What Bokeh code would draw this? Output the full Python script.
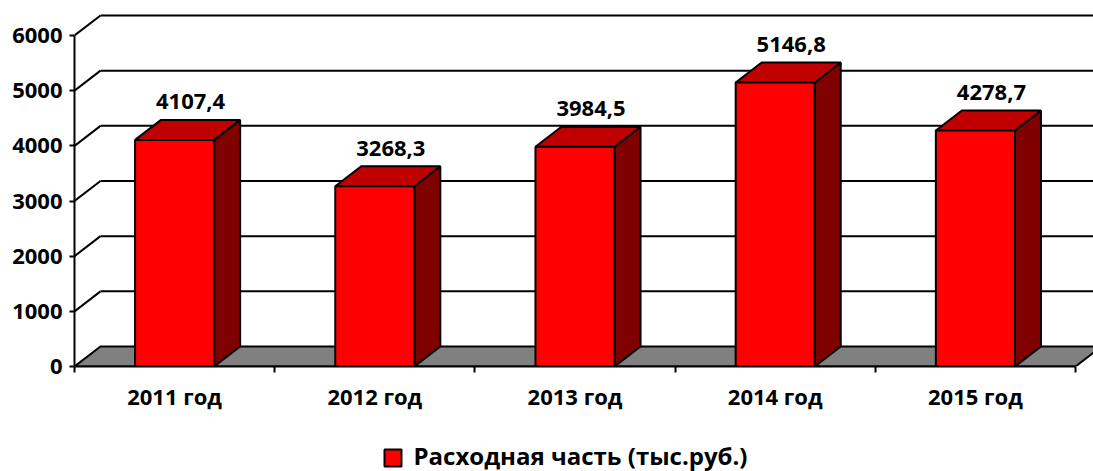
from bokeh.plotting import figure
from bokeh.layouts import column
from bokeh.models import Range1d, LinearAxis, FixedTicker, ColumnDataSource
from bokeh.core.properties import value
from bokeh.embed import file_html
from bokeh.resources import INLINE

# ---- data ----
categories = ["2011 год", "2012 год", "2013 год", "2014 год", "2015 год"]
expenses = [4107.4, 3268.3, 3984.5, 5146.8, 4278.7]
y_ticks = [0, 1000, 2000, 3000, 4000, 5000, 6000]
series_name = "Расходная часть (тыс.руб.)"

# ---- layout / style ----
FONT = "Open Sans"
FS = "22px"
W = 1093
H_CHART, H_LEG = 420, 51
LEFT_B, BOTTOM_B = 74, 54
PX_X = 200.2          # pixels per category
PX_Y = 331.0 / 6000   # pixels per value unit
frame_w = W - LEFT_B
frame_h = H_CHART - BOTTOM_B
x_end = frame_w / PX_X
y_end = frame_h / PX_Y
DX = 26 / PX_X        # 3D depth offset (x, data units)
DY = 20 / PX_Y        # 3D depth offset (y, data units)
BAR_W = 0.395
n = len(categories)

p = figure(width=W, height=H_CHART, x_range=Range1d(0, x_end), y_range=Range1d(0, y_end),
           output_backend="svg", toolbar_location=None,
           x_axis_type=None, y_axis_type=None,
           min_border_left=LEFT_B, min_border_right=0, min_border_top=0,
           min_border_bottom=BOTTOM_B)
p.outline_line_color = None
p.background_fill_color = "white"

# y axis
yaxis = LinearAxis(bounds=(0, y_ticks[-1]), ticker=FixedTicker(ticks=y_ticks, minor_ticks=[]),
                   major_tick_out=5, major_tick_in=0, minor_tick_out=0, minor_tick_in=0,
                   axis_line_width=2, axis_line_color="black",
                   major_tick_line_width=2, major_tick_line_color="black",
                   major_label_standoff=7,
                   major_label_text_font=FONT, major_label_text_font_style="bold",
                   major_label_text_font_size=FS, major_label_text_color="black")
p.add_layout(yaxis, "left")

# x axis (labels at centres, ticks at boundaries)
centers = [i + 0.5 for i in range(n)]
xaxis = LinearAxis(bounds=(0, n),
                   ticker=FixedTicker(ticks=centers, minor_ticks=list(range(n + 1))),
                   major_tick_out=0, major_tick_in=0, minor_tick_out=6, minor_tick_in=0,
                   minor_tick_line_width=2, minor_tick_line_color="black",
                   axis_line_width=2, axis_line_color="black",
                   major_label_overrides={c: cat for c, cat in zip(centers, categories)},
                   major_label_standoff=8,
                   major_label_text_font=FONT, major_label_text_font_style="bold",
                   major_label_text_font_size=FS, major_label_text_color="black")
p.add_layout(xaxis, "below")

# back wall grid lines + left wall diagonals
gv = y_ticks[1:]
p.segment(x0=[DX] * len(gv), y0=[v + DY for v in gv], x1=[x_end + 1] * len(gv),
          y1=[v + DY for v in gv], line_color="black", line_width=2)
p.segment(x0=[0] * len(gv), y0=gv, x1=[DX] * len(gv), y1=[v + DY for v in gv],
          line_color="black", line_width=2)

# floor
p.patch([0, n, n + DX, DX], [0, 0, DY, DY], fill_color="#808080",
        line_color="black", line_width=2)

# bars
L = [c - BAR_W / 2 for c in centers]
R = [c + BAR_W / 2 for c in centers]
side_xs = [[r, r + DX, r + DX, r] for r in R]
side_ys = [[0, DY, v + DY, v] for v in expenses]
top_xs = [[l, r, r + DX, l + DX] for l, r in zip(L, R)]
top_ys = [[v, v, v + DY, v + DY] for v in expenses]
p.patches(side_xs, side_ys, fill_color="#800000", line_color="black", line_width=2)
p.patches(top_xs, top_ys, fill_color="#C00000", line_color="black", line_width=2)
p.quad(left=L, right=R, bottom=[0] * n, top=expenses, fill_color="#FF0000",
       line_color="black", line_width=2)

# value labels
src = ColumnDataSource(dict(
    x=[c + DX / 2 + 0.015 for c in centers],
    y=[v + DY for v in expenses],
    t=[f"{v:.1f}".replace(".", ",") for v in expenses]))
p.text(x="x", y="y", text="t", source=src, text_font=value(FONT), text_font_style="bold",
       text_font_size=FS, text_color="black", text_align="center",
       text_baseline="middle", y_offset=-18)

# legend strip: frame is aligned with the chart frame -> x in page pixels, y downwards
lg = figure(width=W, height=H_LEG, x_range=Range1d(LEFT_B, W), y_range=Range1d(H_LEG, 0),
            output_backend="svg", toolbar_location=None,
            x_axis_type=None, y_axis_type=None,
            min_border_left=LEFT_B, min_border_right=0, min_border_top=0, min_border_bottom=0)
lg.outline_line_color = None
SQ_X, SQ_Y, SQ = 384, 29, 17
lg.quad(left=[SQ_X], right=[SQ_X + SQ], top=[SQ_Y], bottom=[SQ_Y + SQ],
        fill_color="#FF0000", line_color="black", line_width=2)
lg.text(x=[SQ_X + SQ + 12], y=[SQ_Y + SQ / 2 - 3], text=[series_name], text_font=value(FONT),
        text_font_style="bold", text_font_size="24px", text_color="black",
        text_align="left", text_baseline="middle")

layout = column(p, lg, spacing=0)
open("out.html", "w").write(file_html(layout, INLINE))
